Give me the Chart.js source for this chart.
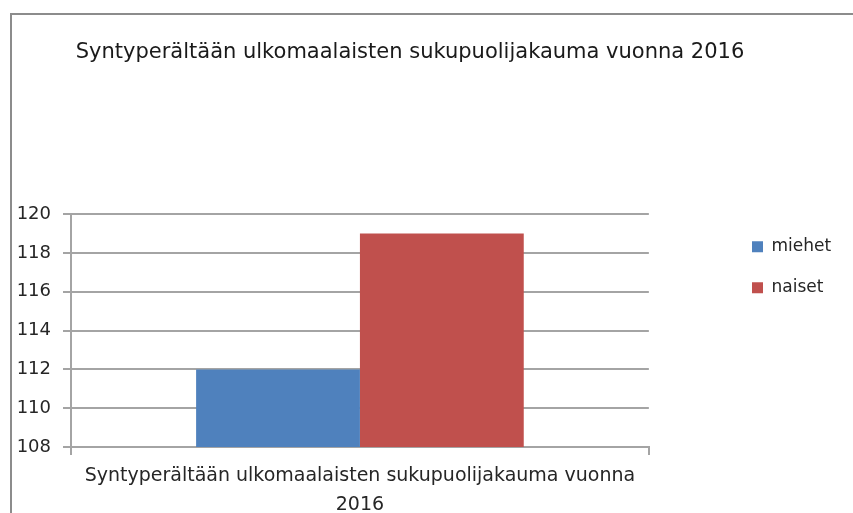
<!DOCTYPE html>
<html>
<head>
<meta charset="utf-8">
<script src="https://cdn.jsdelivr.net/npm/chart.js@4.4.1/dist/chart.umd.min.js"></script>
<style>
  html, body { margin: 0; padding: 0; background: #fff; }
  #frame { position: absolute; left: 10px; top: 13px; width: 900px; height: 600px;
           border-top: 2px solid #8c8c8c; border-left: 2px solid #8c8c8c; }
  #wrap { position: absolute; left: 0; top: 0; width: 853px; height: 513px; }
</style>
</head>
<body>
<div id="frame"></div>
<div id="wrap"><canvas id="chart"></canvas></div>
<script>
// data
const titleText = "Syntyperältään ulkomaalaisten sukupuolijakauma vuonna 2016";
const categories = [["Syntyperältään ulkomaalaisten sukupuolijakauma vuonna", "2016"]];
const seriesNames = ["miehet", "naiset"];
const miehet = [112];
const naiset = [119];
const seriesColors = ["#4F81BD", "#C0504D"];
const yMin = 108;
const yMax = 120;
const yStep = 2;

const fontFamily = "'DejaVu Sans', sans-serif";
const textColor = "#262626";
const gridColor = "#a4a4a4";

// move title / legend to where Excel puts them
const placeBoxes = {
  id: "placeBoxes",
  afterLayout(chart) {
    const t = chart.titleBlock;
    const w = t.right - t.left;
    t.left = 410 - w / 2;
    t.right = 410 + w / 2;
    const lg = chart.legend;
    const lw = lg.right - lg.left;
    lg.left = 752 - lg.options.labels.padding;
    lg.right = lg.left + lw;
  }
};

new Chart(document.getElementById("chart"), {
  type: "bar",
  data: {
    labels: categories,
    datasets: [
      { label: seriesNames[0], data: miehet, backgroundColor: seriesColors[0], borderWidth: 0 },
      { label: seriesNames[1], data: naiset, backgroundColor: seriesColors[1], borderWidth: 0 }
    ]
  },
  plugins: [placeBoxes],
  options: {
    responsive: true,
    maintainAspectRatio: false,
    animation: false,
    categoryPercentage: 0.567,
    barPercentage: 1.0,
    layout: { padding: { left: 0, right: 91, top: 0, bottom: 0 } },
    plugins: {
      title: {
        display: true,
        text: titleText,
        color: "#1a1a1a",
        font: { family: fontFamily, size: 21, weight: "normal" },
        padding: { top: 40, bottom: 149 }
      },
      legend: {
        position: "right",
        align: "start",
        fullSize: false,
        labels: {
          boxWidth: 11,
          boxHeight: 11,
          padding: 24,
          color: textColor,
          font: { family: fontFamily, size: 17 }
        }
      },
      tooltip: { enabled: false }
    },
    scales: {
      x: {
        afterFit(scale) { scale.height = 66; },
        grid: { display: true, drawOnChartArea: false, drawTicks: true, tickLength: 8, offset: true,
                color: gridColor, lineWidth: 2 },
        border: { display: true, color: gridColor, width: 2 },
        ticks: {
          color: textColor,
          padding: 7,
          maxRotation: 0,
          font: { family: fontFamily, size: 19, lineHeight: 1.5 }
        }
      },
      y: {
        min: yMin,
        max: yMax,
        afterFit(scale) { scale.width = 71; },
        grid: { color: gridColor, lineWidth: 2, tickLength: 8 },
        border: { display: true, color: gridColor, width: 2 },
        ticks: {
          stepSize: yStep,
          color: textColor,
          padding: 12,
          font: { family: fontFamily, size: 18 }
        }
      }
    }
  }
});
</script>
</body>
</html>
